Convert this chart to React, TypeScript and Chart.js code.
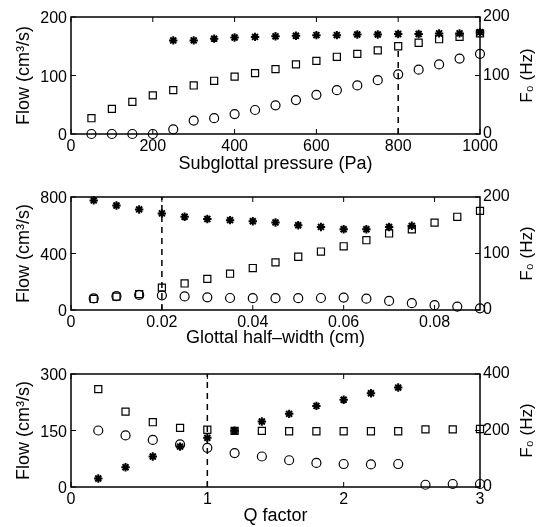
import React, { useEffect, useRef } from 'react';
import { Chart, registerables } from 'chart.js';

Chart.register(...registerables);

const FONT = '"Liberation Sans", Arial, Helvetica, sans-serif';

// ---------- Panel 1: subglottal pressure ----------
const pressure = [50, 100, 150, 200, 250, 300, 350, 400, 450, 500, 550, 600, 650, 700, 750, 800, 850, 900, 950, 1000];
const pressureMeanFlow = [27, 43, 55, 66, 75, 83, 91, 98, 104, 111, 119, 125, 132, 137, 143, 150, 156, 162, 166, 172];
const pressureAcFlow = [0, 0, 0, 0, 8, 23, 27, 34, 41, 49, 58, 67, 75, 83, 92, 102, 110, 119, 129, 137];
const pressureF0 = [null, null, null, null, 160, 160, 163, 165, 166, 167, 168, 169, 169, 170, 170, 171, 171, 172, 172, 174];
const pressureTicksX = [0, 200, 400, 600, 800, 1000];
const pressureTicksFlow = [0, 100, 200];
const pressureTicksF0 = [0, 100, 200];
const pressureMarkerX = 800;
const pressureMarkerY = [0, 150];

// ---------- Panel 2: glottal half-width ----------
const halfWidth = [0.005, 0.01, 0.015, 0.02, 0.025, 0.03, 0.035, 0.04, 0.045, 0.05, 0.055, 0.06, 0.065, 0.07, 0.075, 0.08, 0.085, 0.09];
const halfWidthMeanFlow = [78, 95, 112, 158, 188, 220, 257, 297, 337, 377, 414, 451, 494, 542, 571, 619, 660, 702];
const halfWidthAcFlow = [82, 98, 107, 104, 96, 90, 85, 84, 84, 84, 85, 88, 80, 64, 48, 34, 24, 12];
const halfWidthF0 = [194, 185, 178, 171, 165, 161, 159, 157, 155, 150, 147, 143, 143, 147, 149, null, null, null];
const halfWidthTicksX = [0, 0.02, 0.04, 0.06, 0.08];
const halfWidthTicksFlow = [0, 400, 800];
const halfWidthTicksF0 = [0, 100, 200];
const halfWidthMarkerX = 0.02;
const halfWidthMarkerY = [0, 800];

// ---------- Panel 3: Q factor ----------
const qFactor = [0.2, 0.4, 0.6, 0.8, 1.0, 1.2, 1.4, 1.6, 1.8, 2.0, 2.2, 2.4, 2.6, 2.8, 3.0];
const qMeanFlow = [260, 200, 172, 157, 152, 149, 149, 148, 148, 148, 148, 148, 153, 153, 154];
const qAcFlow = [150, 137, 125, 113, 104, 90, 81, 71, 64, 61, 60, 61, 6, 8, 8];
const qF0 = [30, 70, 108, 143, 174, 199, 232, 259, 287, 309, 332, 352, null, null, null];
const qTicksX = [0, 1, 2, 3];
const qTicksFlow = [0, 150, 300];
const qTicksF0 = [0, 200, 400];
const qMarkerX = 1;
const qMarkerY = [0, 300];

const flowTitle = 'Flow (cm³/s)';
const f0Title = 'F₀ (Hz)';

type Panel = {
  xs: number[];
  mean: number[];
  ac: number[];
  f0: (number | null)[];
  ticksX: number[];
  ticksFlow: number[];
  ticksF0: number[];
  markerX: number;
  markerY: number[];
  xTitle: string;
  // layout
  top: number;
  height: number;
  padTop: number;
  xAxisH: number;
  xTitlePad: number;
};

const panels: Panel[] = [
  {
    xs: pressure, mean: pressureMeanFlow, ac: pressureAcFlow, f0: pressureF0,
    ticksX: pressureTicksX, ticksFlow: pressureTicksFlow, ticksF0: pressureTicksF0,
    markerX: pressureMarkerX, markerY: pressureMarkerY, xTitle: 'Subglottal pressure (Pa)',
    top: 0, height: 180, padTop: 17, xAxisH: 46, xTitlePad: 5,
  },
  {
    xs: halfWidth, mean: halfWidthMeanFlow, ac: halfWidthAcFlow, f0: halfWidthF0,
    ticksX: halfWidthTicksX, ticksFlow: halfWidthTicksFlow, ticksF0: halfWidthTicksF0,
    markerX: halfWidthMarkerX, markerY: halfWidthMarkerY, xTitle: 'Glottal half\u2013width (cm)',
    top: 180, height: 175, padTop: 17, xAxisH: 45, xTitlePad: 6,
  },
  {
    xs: qFactor, mean: qMeanFlow, ac: qAcFlow, f0: qF0,
    ticksX: qTicksX, ticksFlow: qTicksFlow, ticksF0: qTicksF0,
    markerX: qMarkerX, markerY: qMarkerY, xTitle: 'Q factor',
    top: 355, height: 172, padTop: 19, xAxisH: 40, xTitlePad: 0,
  },
];

const LEFT_W = 71;
const RIGHT_W = 62;

const framePlugin = {
  id: 'frame',
  afterDatasetsDraw(chart: any, _args: any, opts: any) {
    const { ctx, chartArea: a, scales } = chart;
    ctx.save();
    ctx.strokeStyle = '#000';
    ctx.lineWidth = 1.5;
    ctx.strokeRect(a.left, a.top, a.right - a.left, a.bottom - a.top);
    const L = 5;
    ctx.lineWidth = 1;
    ctx.beginPath();
    scales.x.ticks.forEach((t: any) => {
      const px = scales.x.getPixelForValue(t.value);
      ctx.moveTo(px, a.bottom);
      ctx.lineTo(px, a.bottom - L);
      ctx.moveTo(px, a.top);
      ctx.lineTo(px, a.top + L);
    });
    scales.y.ticks.forEach((t: any) => {
      const py = scales.y.getPixelForValue(t.value);
      ctx.moveTo(a.left, py);
      ctx.lineTo(a.left + L, py);
    });
    scales.y1.ticks.forEach((t: any) => {
      const py = scales.y1.getPixelForValue(t.value);
      ctx.moveTo(a.right, py);
      ctx.lineTo(a.right - L, py);
    });
    ctx.stroke();
    ctx.fillStyle = '#000';
    ctx.font = `17px ${FONT}`;
    ctx.translate(opts.x, (a.top + a.bottom) / 2);
    ctx.rotate(-Math.PI / 2);
    ctx.textAlign = 'center';
    ctx.textBaseline = 'middle';
    ctx.fillText(opts.text, 0, 0);
    ctx.restore();
  },
};

function makeConfig(p: Panel): any {
  const pts = (ys: (number | null)[]) =>
    p.xs.map((x, i) => ({ x, y: ys[i] })).filter((d) => d.y !== null && d.y !== undefined);
  const xMax = p.xs[p.xs.length - 1];
  const tickFont = { family: FONT, size: 16 };
  const titleFont = { family: FONT, size: 18 };
  const noGrid = { display: false, drawTicks: false, tickLength: 0 };
  return {
    type: 'scatter',
    data: {
      datasets: [
        {
          label: 'Mean flow',
          data: pts(p.mean),
          yAxisID: 'y',
          pointStyle: 'rect',
          pointRadius: 5,
          pointBorderWidth: 1.2,
          borderColor: '#000',
          backgroundColor: 'rgba(0,0,0,0)',
          clip: false,
        },
        {
          label: 'AC flow',
          data: pts(p.ac),
          yAxisID: 'y',
          pointStyle: 'circle',
          pointRadius: 4.5,
          pointBorderWidth: 1.2,
          borderColor: '#000',
          backgroundColor: 'rgba(0,0,0,0)',
          clip: false,
        },
        {
          label: 'F0',
          data: pts(p.f0),
          yAxisID: 'y1',
          pointStyle: 'star',
          pointRadius: 4.2,
          pointBorderWidth: 2,
          borderColor: '#000',
          backgroundColor: '#000',
          clip: false,
        },
        {
          type: 'line',
          label: 'marker',
          data: p.markerY.map((y) => ({ x: p.markerX, y })),
          yAxisID: 'y',
          borderColor: '#000',
          borderWidth: 1.5,
          borderDash: [6, 5],
          pointRadius: 0,
          showLine: true,
          fill: false,
        },
      ],
    },
    options: {
      animation: false,
      responsive: false,
      events: [],
      layout: { padding: { top: p.padTop, left: 0, right: 0, bottom: 0 } },
      plugins: {
        legend: { display: false },
        tooltip: { enabled: false },
        frame: { text: f0Title, x: 527 },
      },
      scales: {
        x: {
          type: 'linear',
          position: 'bottom',
          min: 0,
          max: xMax,
          grid: noGrid,
          border: { display: false },
          afterBuildTicks: (s: any) => { s.ticks = p.ticksX.map((v) => ({ value: v })); },
          afterFit: (s: any) => { s.height = p.xAxisH; },
          ticks: {
            autoSkip: false, maxRotation: 0, padding: 3, color: '#000', font: tickFont,
            callback: (v: any) => String(v),
          },
          title: {
            display: true, text: p.xTitle, color: '#000', font: titleFont,
            padding: { top: 0, bottom: p.xTitlePad },
          },
        },
        y: {
          type: 'linear',
          position: 'left',
          min: 0,
          max: p.ticksFlow[p.ticksFlow.length - 1],
          grid: noGrid,
          border: { display: false },
          afterBuildTicks: (s: any) => { s.ticks = p.ticksFlow.map((v) => ({ value: v })); },
          afterFit: (s: any) => { s.width = LEFT_W; },
          ticks: {
            autoSkip: false, padding: 4, labelOffset: 2, color: '#000', font: tickFont,
            callback: (v: any) => String(v),
          },
          title: {
            display: true, text: flowTitle, color: '#000', font: titleFont,
            padding: { top: 13, bottom: 0 },
          },
        },
        y1: {
          type: 'linear',
          position: 'right',
          min: 0,
          max: p.ticksF0[p.ticksF0.length - 1],
          grid: noGrid,
          border: { display: false },
          afterBuildTicks: (s: any) => { s.ticks = p.ticksF0.map((v) => ({ value: v })); },
          afterFit: (s: any) => { s.width = RIGHT_W; },
          ticks: {
            autoSkip: false, padding: 3, color: '#000', font: tickFont,
            callback: (v: any) => String(v),
          },
        },
      },
    },
    plugins: [framePlugin],
  };
}

function PanelChart({ p }: { p: Panel }) {
  const ref = useRef<HTMLCanvasElement | null>(null);
  useEffect(() => {
    if (!ref.current) return;
    const chart = new Chart(ref.current, makeConfig(p));
    return () => chart.destroy();
  }, [p]);
  return (
    <canvas
      ref={ref}
      width={542}
      height={p.height}
      style={{ position: 'absolute', left: 0, top: p.top, width: 542, height: p.height, display: 'block' }}
    />
  );
}

export default function App() {
  return (
    <div style={{ position: 'absolute', left: 0, top: 0, width: 542, height: 527, background: '#fff', overflow: 'hidden' }}>
      {panels.map((p, i) => (
        <PanelChart key={i} p={p} />
      ))}
    </div>
  );
}
